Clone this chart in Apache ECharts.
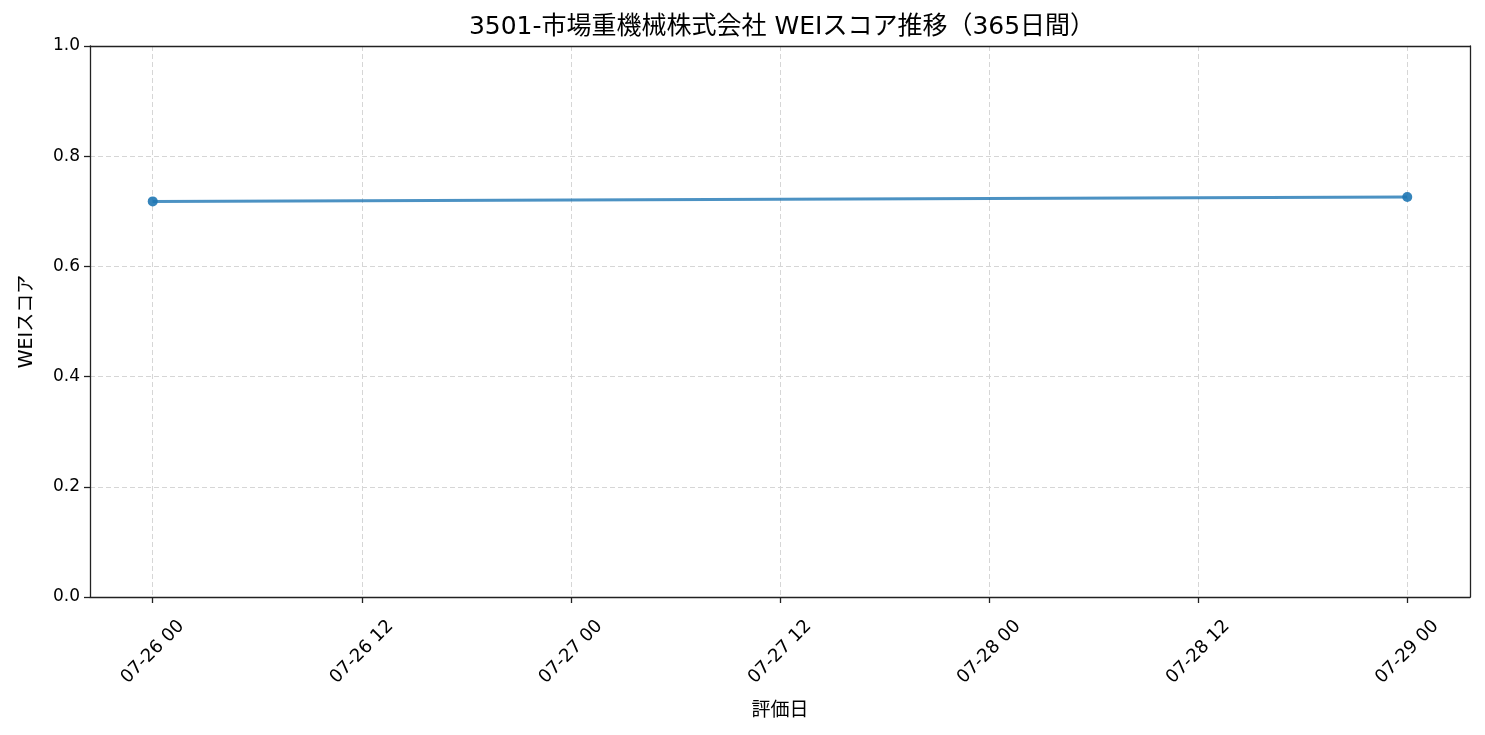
<!DOCTYPE html>
<html>
<head>
<meta charset="utf-8">
<script src="https://cdn.jsdelivr.net/npm/echarts@6/dist/echarts.min.js"></script>
<style>
  html, body { margin: 0; padding: 0; background: #fff; }
  #main { width: 1485px; height: 735px; }
</style>
</head>
<body>
<div id="main"></div>
<script>
var myChart = echarts.init(document.getElementById('main'));

// 評価日とWEIスコア
var evalDates = ['2025-07-26', '2025-07-29'];
var weiScores = [0.718, 0.726];
// x軸の目盛り（12時間ごと）
var tickDates = ['2025-07-26 00', '2025-07-26 12', '2025-07-27 00', '2025-07-27 12',
                 '2025-07-28 00', '2025-07-28 12', '2025-07-29 00'];

function toMs(s) {
    var p = s.split(' ');
    var d = p[0].split('-');
    return Date.UTC(+d[0], +d[1] - 1, +d[2], p[1] ? +p[1] : 0);
}
function pad(n) { return n < 10 ? '0' + n : '' + n; }

var chartData = [];
for (var i = 0; i < evalDates.length; i++) {
    chartData.push([toMs(evalDates[i]), weiScores[i]]);
}
var tickValues = tickDates.map(toMs);
// matplotlib風の5%マージン
var span = chartData[chartData.length - 1][0] - chartData[0][0];
var xMin = chartData[0][0] - span * 0.05;
var xMax = chartData[chartData.length - 1][0] + span * 0.05;

var FONT = '"DejaVu Sans", "Noto Sans CJK JP", sans-serif';
var AXIS_COLOR = '#222';
var AXIS_LINE = { color: AXIS_COLOR, width: 1.3 };
var GRID_LINE = { type: [5, 3], color: '#d6d6d6', width: 1 };

// 上・右の枠線だけを描く補助軸
var frameX = {
    type: 'value', position: 'top', min: xMin, max: xMax,
    axisLine: { show: true, onZero: false, lineStyle: AXIS_LINE },
    axisTick: { show: false }, axisLabel: { show: false }, splitLine: { show: false }
};
var frameY = {
    type: 'value', position: 'right', min: 0, max: 1,
    axisLine: { show: true, onZero: false, lineStyle: AXIS_LINE },
    axisTick: { show: false }, axisLabel: { show: false }, splitLine: { show: false }
};

var option = {
    backgroundColor: '#fff',
    animation: false,
    title: {
        text: '3501-市場重機械株式会社 WEIスコア推移（365日間）',
        left: 777,
        textAlign: 'center',
        top: 10,
        textStyle: { fontFamily: FONT, fontSize: 25, fontWeight: 'normal', color: '#000' }
    },
    grid: { left: 90, right: 15, top: 46, bottom: 138, containLabel: false },
    xAxis: [{
        type: 'value',
        min: xMin,
        max: xMax,
        name: '評価日',
        nameLocation: 'middle',
        nameGap: 105,
        nameTextStyle: { fontFamily: FONT, fontSize: 19, color: '#000' },
        axisLine: { onZero: false, lineStyle: AXIS_LINE },
        axisTick: { show: true, length: 6, customValues: tickValues, lineStyle: AXIS_LINE },
        axisLabel: {
            customValues: tickValues,
            rotate: 45,
            margin: 55,
            align: 'center',
            verticalAlign: 'middle',
            fontFamily: FONT,
            fontSize: 18,
            color: '#000',
            formatter: function (v) {
                var d = new Date(v);
                return pad(d.getUTCMonth() + 1) + '-' + pad(d.getUTCDate()) + ' ' + pad(d.getUTCHours());
            }
        },
        splitLine: { show: true, lineStyle: GRID_LINE }
    }, frameX],
    yAxis: [{
        type: 'value',
        min: 0,
        max: 1,
        interval: 0.2,
        name: 'WEIスコア',
        nameLocation: 'middle',
        nameGap: 53,
        nameTextStyle: { fontFamily: FONT, fontSize: 19, color: '#000' },
        axisLine: { show: true, lineStyle: AXIS_LINE },
        axisTick: { show: true, length: 6, lineStyle: AXIS_LINE },
        axisLabel: {
            margin: 10,
            fontFamily: FONT,
            fontSize: 17,
            color: '#000',
            formatter: function (v) { return v.toFixed(1); }
        },
        splitLine: { show: true, lineStyle: GRID_LINE }
    }, frameY],
    series: [{
        name: 'WEI',
        type: 'line',
        data: chartData,
        symbol: 'circle',
        symbolSize: 10,
        lineStyle: { color: 'rgba(31,119,180,0.8)', width: 3 },
        itemStyle: { color: 'rgba(31,119,180,0.9)' }
    }]
};

myChart.setOption(option);
</script>
</body>
</html>
